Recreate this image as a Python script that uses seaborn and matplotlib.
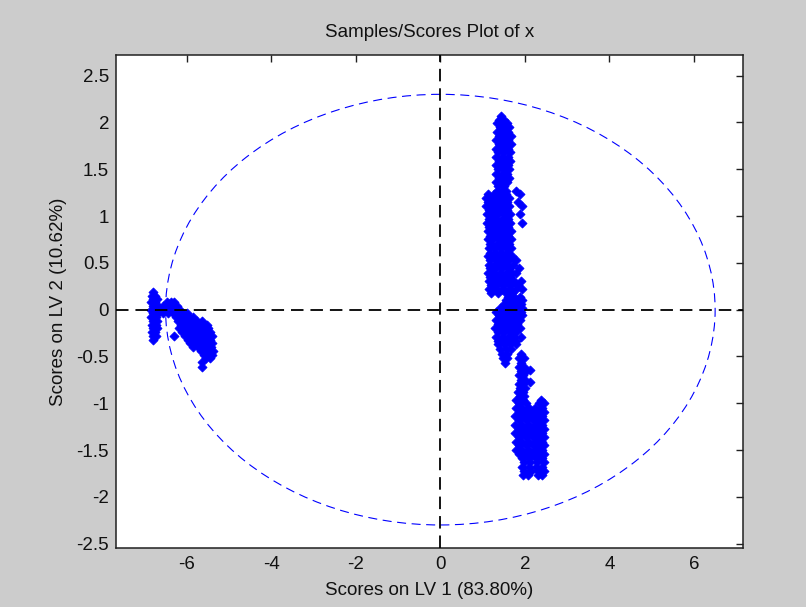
import matplotlib
matplotlib.use("Agg")
import matplotlib.pyplot as plt
from matplotlib.patches import Ellipse
import pandas as pd
import seaborn as sns

title_text = "Samples/Scores Plot of x"
x_label = "Scores on LV 1 (83.80%)"
y_label = "Scores on LV 2 (10.62%)"
x_ticks = [-6, -4, -2, 0, 2, 4, 6]
y_ticks = [-2.5, -2, -1.5, -1, -0.5, 0, 0.5, 1, 1.5, 2, 2.5]
ellipse_lv1_radius = 6.5
ellipse_lv2_radius = 2.3

# Each row: (score on LV 2, [scores on LV 1 of samples at that level])
left_rows = [
    (0.19, [-6.80]),
    (0.15, [-6.83, -6.76]),
    (0.11, [-6.80, -6.71]),
    (0.08, [-6.84, -6.74, -6.47, -6.37, -6.29]),
    (0.04, [-6.79, -6.68, -6.56, -6.44, -6.33, -6.23]),
    (0.00, [-6.84, -6.73, -6.62, -6.50, -6.38, -6.27, -6.16]),
    (-0.04, [-6.79, -6.68, -6.56, -6.44, -6.32, -6.21, -6.10, -6.00]),
    (-0.08, [-6.84, -6.73, -6.26, -6.15, -6.04, -5.94, -5.86]),
    (-0.12, [-6.79, -6.70, -6.20, -6.09, -5.98, -5.87, -5.76, -5.64]),
    (-0.16, [-6.83, -6.73, -6.14, -6.03, -5.92, -5.81, -5.70, -5.60, -5.52]),
    (-0.20, [-6.79, -6.70, -6.18, -6.07, -5.96, -5.85, -5.74, -5.64, -5.50]),
    (-0.24, [-6.83, -6.74, -6.10, -6.00, -5.89, -5.78, -5.67, -5.56, -5.46]),
    (-0.28, [-6.79, -6.72, -6.31, -6.04, -5.93, -5.82, -5.72, -5.61, -5.50, -5.41]),
    (-0.32, [-6.80, -5.97, -5.87, -5.76, -5.65, -5.54, -5.44]),
    (-0.36, [-5.92, -5.81, -5.69, -5.58, -5.48, -5.39]),
    (-0.40, [-5.86, -5.74, -5.62, -5.52, -5.43]),
    (-0.44, [-5.66, -5.56, -5.46, -5.38]),
    (-0.48, [-5.60, -5.50, -5.41]),
    (-0.52, [-5.54, -5.44]),
    (-0.56, [-5.63]),
    (-0.61, [-5.63]),
]

upper_rows = [
    (2.07, [1.43]),
    (2.03, [1.38, 1.50]),
    (1.99, [1.34, 1.46, 1.58]),
    (1.95, [1.40, 1.54, 1.62]),
    (1.90, [1.33, 1.47, 1.60]),
    (1.86, [1.39, 1.53, 1.66]),
    (1.81, [1.32, 1.46, 1.61]),
    (1.77, [1.38, 1.52, 1.66]),
    (1.72, [1.31, 1.45, 1.59]),
    (1.68, [1.37, 1.51, 1.64]),
    (1.63, [1.32, 1.46, 1.60]),
    (1.59, [1.38, 1.53, 1.65]),
    (1.54, [1.31, 1.45, 1.59]),
    (1.50, [1.37, 1.51, 1.63]),
    (1.45, [1.32, 1.46, 1.58]),
    (1.41, [1.38, 1.52, 1.62]),
    (1.36, [1.31, 1.44, 1.57]),
    (1.32, [1.36, 1.50]),
    (1.27, [1.33, 1.46, 1.55, 1.78]),
    (1.23, [1.12, 1.27, 1.42, 1.56, 1.88]),
    (1.19, [1.08, 1.20, 1.35, 1.50, 1.62]),
    (1.15, [1.13, 1.28, 1.43, 1.57, 1.83]),
    (1.11, [1.09, 1.21, 1.36, 1.50, 1.63, 1.93]),
    (1.06, [1.14, 1.29, 1.44, 1.58]),
    (1.02, [1.10, 1.22, 1.37, 1.52, 1.64, 1.88]),
    (0.97, [1.15, 1.30, 1.45, 1.59]),
    (0.93, [1.11, 1.23, 1.38, 1.53, 1.65, 1.93]),
    (0.88, [1.16, 1.31, 1.46, 1.60]),
    (0.84, [1.12, 1.24, 1.39, 1.54, 1.66]),
    (0.79, [1.17, 1.32, 1.47, 1.61]),
    (0.75, [1.13, 1.25, 1.40, 1.55, 1.67]),
    (0.70, [1.18, 1.33, 1.48, 1.62]),
    (0.66, [1.14, 1.26, 1.41, 1.56, 1.68]),
    (0.61, [1.17, 1.32, 1.47, 1.61]),
    (0.57, [1.13, 1.25, 1.40, 1.55, 1.70]),
    (0.53, [1.18, 1.33, 1.48, 1.63, 1.80]),
    (0.48, [1.14, 1.26, 1.41, 1.56, 1.72]),
    (0.44, [1.17, 1.32, 1.47, 1.62, 1.86]),
    (0.39, [1.13, 1.25, 1.40, 1.55, 1.70, 1.80]),
    (0.35, [1.18, 1.33, 1.48, 1.64]),
    (0.31, [1.14, 1.27, 1.42, 1.57, 1.75, 1.90]),
    (0.26, [1.19, 1.34, 1.50, 1.66, 1.84]),
    (0.22, [1.16, 1.30, 1.45, 1.62, 1.78, 1.92]),
    (0.18, [1.20, 1.36, 1.56, 1.70]),
]

middle_rows = [
    (0.14, [1.60, 1.74, 1.88]),
    (0.10, [1.55, 1.67, 1.81, 1.93]),
    (0.06, [1.50, 1.62, 1.76, 1.90]),
    (0.02, [1.42, 1.56, 1.70, 1.84, 1.94]),
    (-0.02, [1.32, 1.45, 1.60, 1.75, 1.90]),
    (-0.06, [1.38, 1.52, 1.67, 1.82, 1.94]),
    (-0.11, [1.31, 1.45, 1.60, 1.75, 1.89]),
    (-0.15, [1.37, 1.52, 1.67, 1.82]),
    (-0.20, [1.30, 1.44, 1.59, 1.74, 1.88]),
    (-0.24, [1.36, 1.51, 1.66, 1.80]),
    (-0.29, [1.31, 1.45, 1.60, 1.74, 1.90]),
    (-0.33, [1.37, 1.52, 1.66, 1.80]),
    (-0.37, [1.36, 1.50, 1.64, 1.78]),
    (-0.42, [1.41, 1.55, 1.67]),
    (-0.47, [1.45, 1.58, 1.90]),
    (-0.52, [1.49, 1.57, 1.86, 1.97]),
    (-0.57, [1.52, 1.91]),
]

lower_rows = [
    (-0.61, [1.86, 1.97]),
    (-0.64, [2.12]),
    (-0.66, [1.91, 2.02]),
    (-0.70, [1.85, 1.96]),
    (-0.75, [1.90, 2.01]),
    (-0.77, [2.12]),
    (-0.79, [1.85, 1.95]),
    (-0.84, [1.89, 2.00]),
    (-0.88, [1.84, 1.95]),
    (-0.92, [1.88, 1.99]),
    (-0.96, [1.80, 1.95, 2.38]),
    (-1.00, [1.86, 2.02, 2.33, 2.44]),
    (-1.05, [1.78, 1.94, 2.10, 2.25, 2.40]),
    (-1.09, [1.86, 2.02, 2.18, 2.34, 2.45]),
    (-1.14, [1.77, 1.94, 2.10, 2.26, 2.41]),
    (-1.18, [1.85, 2.02, 2.18, 2.34, 2.45]),
    (-1.23, [1.77, 1.93, 2.10, 2.26, 2.41]),
    (-1.27, [1.85, 2.02, 2.18, 2.34, 2.46]),
    (-1.32, [1.77, 1.94, 2.10, 2.26, 2.41]),
    (-1.36, [1.86, 2.02, 2.18, 2.34, 2.45]),
    (-1.41, [1.78, 1.94, 2.10, 2.26, 2.41]),
    (-1.45, [1.86, 2.02, 2.18, 2.34, 2.46]),
    (-1.50, [1.79, 1.94, 2.10, 2.26, 2.41]),
    (-1.54, [1.86, 2.02, 2.18, 2.34, 2.45]),
    (-1.59, [1.94, 2.10, 2.26, 2.41]),
    (-1.63, [1.97, 2.12, 2.28, 2.44]),
    (-1.68, [1.94, 2.10, 2.26, 2.41]),
    (-1.72, [1.98, 2.14, 2.30, 2.44]),
    (-1.77, [1.96, 2.08, 2.30, 2.40]),
]

records = []
for group_rows in (left_rows, upper_rows, middle_rows, lower_rows):
    for lv2, lv1_list in group_rows:
        for lv1 in lv1_list:
            records.append({"LV1": lv1, "LV2": lv2})
df = pd.DataFrame(records)

sns.set_style("white")
plt.rcParams["font.family"] = ["Liberation Sans", "DejaVu Sans"]
plt.rcParams["lines.scale_dashes"] = False

fig = plt.figure(figsize=(8.06, 6.07), dpi=100, facecolor="#CCCCCC")
ax = fig.add_axes([116 / 806, (607 - 548) / 607, (742.5 - 116) / 806, (548 - 55) / 607])
ax.set_facecolor("white")

sns.scatterplot(data=df, x="LV1", y="LV2", ax=ax, marker="D", s=21,
                color="#0000FF", edgecolor="#0000FF", linewidth=0.6, zorder=2,
                legend=False)

ell = Ellipse((0, 0), 2 * ellipse_lv1_radius, 2 * ellipse_lv2_radius,
              fill=False, edgecolor="#0000FF", linewidth=0.8,
              linestyle=(0, (6.5, 4.0)), zorder=3)
ax.add_patch(ell)

ax.axhline(0, color="black", linewidth=1.3, linestyle=(0, (9, 5)), zorder=3)
ax.axvline(0, color="black", linewidth=1.3, linestyle=(0, (9, 5)), zorder=3)

ax.set_xlim(-7.672, 7.147)
ax.set_ylim(-2.546, 2.72)
ax.set_xticks(x_ticks)
ax.set_yticks(y_ticks)
ax.set_xticklabels([f"{t:g}" for t in x_ticks])
ax.set_yticklabels([f"{t:g}" for t in y_ticks])

font_size = 13.5
ax.tick_params(direction="in", top=True, right=True, length=5, width=1,
               color="#202020", labelsize=font_size, labelcolor="#111111")
ax.tick_params(axis="x", pad=6)
ax.tick_params(axis="y", pad=5)
for sp in ax.spines.values():
    sp.set_visible(True)
    sp.set_color("#202020")
    sp.set_linewidth(1.1)

ax.set_title(title_text, fontsize=font_size, color="#111111", pad=13)
ax.set_xlabel(x_label, fontsize=font_size, color="#111111", labelpad=6)
ax.set_ylabel(y_label, fontsize=font_size, color="#111111", labelpad=7)

fig.savefig("out.png", dpi=100, facecolor=fig.get_facecolor())
